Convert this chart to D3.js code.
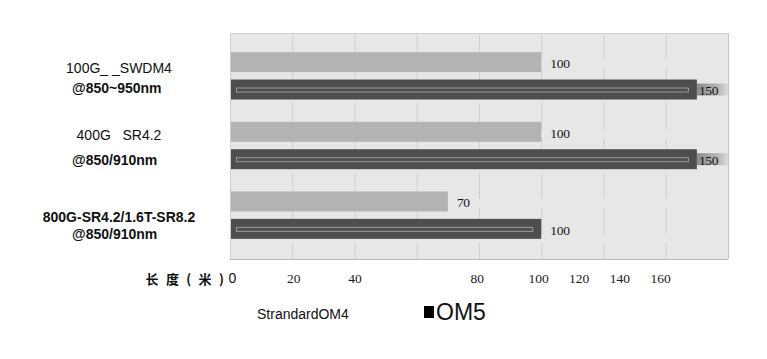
<!DOCTYPE html>
<html>
<head>
<meta charset="utf-8">
<script src="https://cdn.jsdelivr.net/npm/d3@7"></script>
<style>
  html, body { margin: 0; padding: 0; background: #ffffff; }
  svg { display: block; }
</style>
</head>
<body>
<svg id="chart" width="767" height="359"></svg>
<script>
// ---------------- data ----------------
const categoryLine1 = ["100G_ _SWDM4", "400G   SR4.2", "800G-SR4.2/1.6T-SR8.2"];
const categoryLine2 = ["@850~950nm", "@850/910nm", "@850/910nm"];
const seriesNames = ["StrandardOM4", "OM5"];
const om4Values = [100, 100, 70];
const om5Values = [150, 150, 100];
const tickValues = [0, 20, 40, 80, 100, 120, 140, 160];
const gridValues = [20, 40, 60, 80, 100, 120, 140];
const axisTitle = "长 度 ( 米 )";

// ---------------- layout ----------------
const svg = d3.select("#chart");
const plot = { left: 230, right: 728, top: 33, bottom: 259 };

const x = d3.scaleLinear().domain([0, 160]).range([plot.left, plot.right]);
// the printed tick labels of the original are squeezed after 100
const xLabel = d3.scaleLinear().domain([0, 100, 160]).range([232, 538, 660]);

const groups = d3.range(categoryLine1.length);
const y0 = d3.scaleBand().domain(groups).range([41, 250]).paddingInner(0.32).paddingOuter(0.16);
const y1 = d3.scaleBand().domain(seriesNames).range([0, y0.bandwidth()]).paddingInner(0.27);

// vertical offsets of the two label lines inside each group band
const line1Offset = [16, 13, 26];
const line2Offset = [36, 38, 43];

const colors = { "StrandardOM4": "#b3b3b3", "OM5": "#4e4e4e" };

const rows = [];
groups.forEach(i => {
  rows.push({ g: i, s: seriesNames[0], v: om4Values[i] });
  rows.push({ g: i, s: seriesNames[1], v: om5Values[i] });
});
const maxVal = d3.max(rows, d => d.v);

// gradient for the smudge behind the long-bar labels
const defs = svg.append("defs");
const grad = defs.append("linearGradient").attr("id", "smudge").attr("x1", "0").attr("x2", "1");
grad.append("stop").attr("offset", "0%").attr("stop-color", "#8c8c8c");
grad.append("stop").attr("offset", "70%").attr("stop-color", "#b8b8b8");
grad.append("stop").attr("offset", "100%").attr("stop-color", "#dcdcdc");

// plot background
svg.append("rect")
  .attr("x", plot.left).attr("y", plot.top)
  .attr("width", plot.right - plot.left).attr("height", plot.bottom - plot.top)
  .attr("fill", "#e7e7e7");

// gridlines
svg.append("g").selectAll("line").data(gridValues).join("line")
  .attr("x1", d => x(d) + 0.5).attr("x2", d => x(d) + 0.5)
  .attr("y1", plot.top).attr("y2", plot.bottom)
  .attr("stroke", "#cfcfcf").attr("stroke-width", 1)
  .attr("stroke-dasharray", "26,9");

// plot border
svg.append("line").attr("x1", plot.left).attr("x2", plot.right).attr("y1", plot.top + 0.5).attr("y2", plot.top + 0.5)
  .attr("stroke", "#d2d2d2");
svg.append("line").attr("x1", plot.left).attr("x2", plot.right).attr("y1", plot.bottom + 0.5).attr("y2", plot.bottom + 0.5)
  .attr("stroke", "#b9b9b9");
svg.append("line").attr("x1", plot.left + 0.5).attr("x2", plot.left + 0.5).attr("y1", plot.top).attr("y2", plot.bottom)
  .attr("stroke", "#cfcfcf");
svg.append("line").attr("x1", plot.right + 0.5).attr("x2", plot.right + 0.5).attr("y1", plot.top).attr("y2", plot.bottom)
  .attr("stroke", "#c4c4c4");

// smudges
svg.append("g").selectAll("rect").data(rows.filter(d => d.v === maxVal)).join("rect")
  .attr("x", d => x(d.v))
  .attr("y", d => y0(d.g) + y1(d.s) + 4)
  .attr("width", d => plot.right - x(d.v))
  .attr("height", y1.bandwidth() - 8)
  .attr("fill", "url(#smudge)");

// bars
const barG = svg.append("g");
barG.selectAll("rect").data(rows).join("rect")
  .attr("x", x(0) + 1)
  .attr("y", d => y0(d.g) + y1(d.s))
  .attr("width", d => x(d.v) - x(0) - 1)
  .attr("height", y1.bandwidth())
  .attr("fill", d => colors[d.s]);

// inner outline in OM5 bars
barG.selectAll("rect.inner").data(rows.filter(d => d.s === "OM5")).join("rect")
  .attr("class", "inner")
  .attr("x", x(0) + 6.5)
  .attr("y", d => y0(d.g) + y1(d.s) + 8.5)
  .attr("width", d => x(d.v) - x(0) - 15)
  .attr("height", 4)
  .attr("fill", "none")
  .attr("stroke", "#9c9c9c")
  .attr("stroke-width", 1);

// value labels
svg.append("g").selectAll("text").data(rows).join("text")
  .attr("x", d => x(d.v) + (d.v === maxVal ? 2 : 9))
  .attr("y", d => y0(d.g) + y1(d.s) + y1.bandwidth() / 2 + 1)
  .attr("dy", "0.35em")
  .attr("font-family", "'Liberation Serif', 'Times New Roman', serif")
  .attr("font-size", 13.5)
  .attr("letter-spacing", "-0.3")
  .attr("fill", "#141418")
  .text(d => d.v);

// category labels
const catG = svg.append("g")
  .attr("font-family", "'Liberation Sans', Arial, sans-serif")
  .attr("font-size", 14)
  .attr("fill", "#111");
catG.selectAll("text.l1").data(groups).join("text")
  .attr("class", "l1")
  .attr("x", 119)
  .attr("y", i => y0(i) + line1Offset[i])
  .attr("dy", "0.35em")
  .attr("text-anchor", "middle")
  .attr("font-weight", i => i === groups.length - 1 ? "bold" : "normal")
  .style("white-space", "pre")
  .text(i => categoryLine1[i]);
catG.selectAll("text.l2").data(groups).join("text")
  .attr("class", "l2")
  .attr("x", 72)
  .attr("y", i => y0(i) + line2Offset[i])
  .attr("dy", "0.35em")
  .attr("font-weight", "bold")
  .text(i => categoryLine2[i]);

// x axis labels
const axis = d3.axisBottom(xLabel).tickValues(tickValues).tickSize(0).tickPadding(0).tickFormat(d3.format("d"));
const axG = svg.append("g").attr("transform", "translate(0,273)").call(axis);
axG.select(".domain").remove();
axG.selectAll("text")
  .attr("font-family", "'Liberation Serif', 'Times New Roman', serif")
  .attr("font-size", 13.5)
  .attr("fill", "#1a1a1a");
axG.selectAll(".tick").filter(d => d === 0).select("text")
  .attr("font-family", "'Liberation Sans', Arial, sans-serif")
  .attr("font-size", 14)
  .attr("fill", "#111");

svg.append("text")
  .attr("x", 226).attr("y", 279)
  .attr("dy", "0.35em")
  .attr("text-anchor", "end")
  .attr("font-family", "'Noto Sans CJK SC', sans-serif")
  .attr("font-size", 13)
  .attr("font-weight", "bold")
  .attr("letter-spacing", "2.2")
  .attr("fill", "#111")
  .style("white-space", "pre")
  .text(axisTitle);

// legend
svg.append("text")
  .attr("x", 257).attr("y", 314)
  .attr("dy", "0.35em")
  .attr("font-family", "'Liberation Sans', Arial, sans-serif")
  .attr("font-size", 14)
  .attr("fill", "#111")
  .text(seriesNames[0]);
svg.append("rect")
  .attr("x", 424).attr("y", 306)
  .attr("width", 10).attr("height", 12)
  .attr("fill", "#000");
svg.append("text")
  .attr("x", 436).attr("y", 312)
  .attr("dy", "0.35em")
  .attr("font-family", "'Liberation Sans', Arial, sans-serif")
  .attr("font-size", 23)
  .attr("fill", "#111")
  .text(seriesNames[1]);
</script>
</body>
</html>
